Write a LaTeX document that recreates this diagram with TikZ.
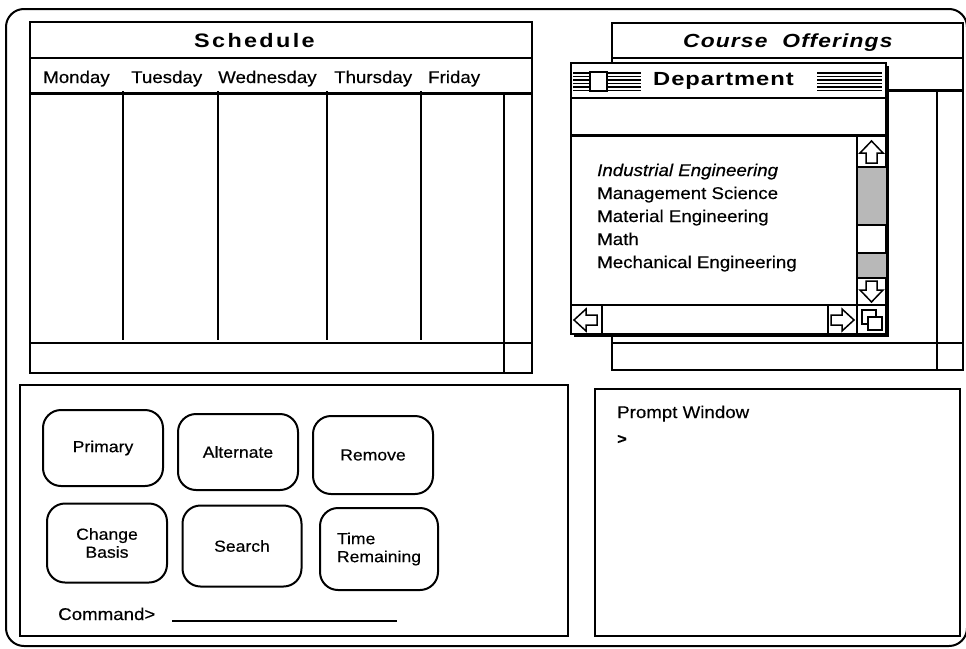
\documentclass[tikz,border=0pt]{standalone}
\usepackage{fontspec}
\newfontfamily\uifont[FakeStretch=1.1,FakeBold=0.4]{Liberation Sans}
\newfontfamily\schedfont[FakeStretch=1.2,LetterSpace=12]{Liberation Sans}
\newfontfamily\coursefont[FakeStretch=1.2,LetterSpace=6]{Liberation Sans}
\newfontfamily\deptfont[FakeStretch=1.25,LetterSpace=5]{Liberation Sans}
\begin{document}
\begin{tikzpicture}[x=1pt,y=-1pt,
  win/.style={line width=2pt},
  thinline/.style={line width=1.5pt},
  dbl/.style={line width=3pt},
  lbl/.style={inner sep=0pt, anchor=base west, font=\uifont\fontsize{17}{20}\selectfont},
  ttl/.style={inner sep=0pt, anchor=base west},
  btn/.style={draw, line width=2pt, rounded corners=18pt, align=center,
    font=\uifont\fontsize{16}{18}\selectfont, inner sep=0pt},
  stripe/.style={line width=1.6pt},
  arr/.style={line width=1.5pt, line join=miter},
  stipple/.style={fill=black!28},
  ]
\useasboundingbox (0,0) rectangle (966,648);

% outer frame
\draw[win, rounded corners=18pt] (6,9) rectangle (967,646);

% ---------- Schedule window ----------
\draw[win] (30,22) rectangle (532,373);
\draw[thinline] (30,58) -- (532,58);
\draw[dbl] (30,93) -- (532,93);
\foreach \x in {123,218,327,421} \draw[win] (\x,91) -- (\x,340);
\draw[thinline] (504,93) -- (504,373);
\draw[thinline] (30,343) -- (532,343);
\node[ttl, font=\schedfont\bfseries\fontsize{19.5}{22}\selectfont] (schedtitle) at (194,47) {Schedule};
\node[lbl] (mon) at (43,83) {Monday};
\node[lbl] (tue) at (131,83) {Tuesday};
\node[lbl] (wed) at (218,83) {Wednesday};
\node[lbl] (thu) at (334,83) {Thursday};
\node[lbl] (fri) at (428,83) {Friday};

% ---------- Course Offerings window ----------
\draw[win] (612,23) rectangle (963,370);
\draw[thinline] (612,58) -- (963,58);
\draw[dbl] (612,90) -- (963,90);
\draw[thinline] (937,90) -- (937,370);
\draw[thinline] (612,343) -- (963,343);
\node[ttl, font=\coursefont\bfseries\itshape\fontsize{19}{22}\selectfont] (coursetitle) at (683,47) {Course\ \ Offerings};

% ---------- Department window ----------
\fill (574,66) rectangle (889,337);
\draw[win, fill=white] (571,63) rectangle (886,334);
\draw[thinline] (571,98) -- (886,98);
\draw[dbl] (571,135) -- (886,135);
% title bar decoration
\foreach \y in {73,76.5,80,83.5,87,90.5} {
  \draw[stripe] (573,\y) -- (589,\y);
  \draw[stripe] (608,\y) -- (641,\y);
  \draw[stripe] (817,\y) -- (882,\y);
}
\draw[thinline, fill=white] (590,72) rectangle (607,91);
\node[ttl, font=\deptfont\bfseries\fontsize{19}{22}\selectfont] (depttitle) at (653,85) {Department};
% list
\node[lbl, font=\uifont\itshape\fontsize{17}{20}\selectfont] (ie) at (597,176) {Industrial Engineering};
\node[lbl] (ms) at (597,199) {Management Science};
\node[lbl] (me) at (597,222) {Material Engineering};
\node[lbl] (ma) at (597,245) {Math};
\node[lbl] (mc) at (597,268) {Mechanical Engineering};
% vertical scroll bar
\fill[stipple] (857,167) rectangle (886,225);
\fill[stipple] (857,253) rectangle (886,278);
\draw[thinline] (857,135) -- (857,334);
\draw[thinline] (857,167) -- (886,167);
\draw[thinline] (857,225) -- (886,225);
\draw[thinline] (857,253) -- (886,253);
\draw[thinline] (857,278) -- (886,278);
\draw[arr] (871.5,141) -- (883,153) -- (877,153) -- (877,163) -- (866,163) -- (866,153) -- (860,153) -- cycle;
\draw[arr] (871.5,302) -- (883,290) -- (877,290) -- (877,281) -- (866,281) -- (866,290) -- (860,290) -- cycle;
% horizontal scroll bar
\draw[thinline] (571,305) -- (886,305);
\draw[thinline] (602,305) -- (602,334);
\draw[thinline] (828,305) -- (828,334);
\draw[arr] (574,320) -- (586,309) -- (586,315) -- (597,315) -- (597,325) -- (586,325) -- (586,331) -- cycle;
\draw[arr] (854,320) -- (842,309) -- (842,315) -- (831,315) -- (831,325) -- (842,325) -- (842,331) -- cycle;
% grow box
\draw[thinline, fill=white] (862,310) rectangle (876,324);
\draw[thinline, fill=white] (868,317) rectangle (882,330);

% ---------- Command panel ----------
\draw[win] (20,385) rectangle (568,636);
\node[btn, minimum width=120pt, minimum height=76pt] (primary) at (103,448) {Primary};
\node[btn, minimum width=120pt, minimum height=76pt] (alternate) at (238,452) {Alternate};
\node[btn, minimum width=120pt, minimum height=78pt] (remove) at (373,455) {Remove};
\node[btn, minimum width=120pt, minimum height=79pt] (change) at (107,543) {Change\\Basis};
\node[btn, minimum width=119pt, minimum height=81pt] (search) at (242,546) {Search};
\node[btn, minimum width=118pt, minimum height=82pt, align=left] (time) at (379,549) {Time\\Remaining};
\node[lbl] (cmd) at (58,620) {Command>};
\coordinate (cmdA) at (172,621);
\coordinate (cmdB) at (397,621);
\draw[thinline] (cmdA) -- (cmdB);

% ---------- Prompt window ----------
\draw[win] (595,389) rectangle (960,636);
\node[lbl] (prompt) at (617,418) {Prompt Window};
\node[lbl, font=\uifont\bfseries\fontsize{15}{18}\selectfont] (gt) at (617,444) {>};
\end{tikzpicture}
\end{document}
